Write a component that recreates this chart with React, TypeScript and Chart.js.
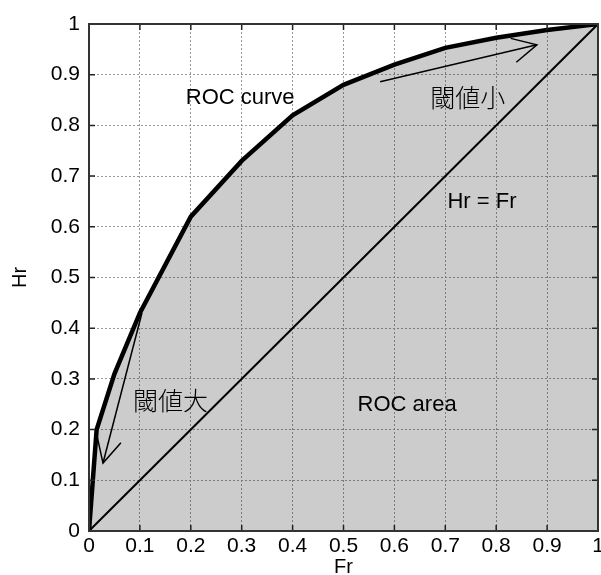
import React, { useEffect, useRef } from "react";
import { Chart, registerables } from "chart.js";

Chart.register(...registerables);

// ROC curve data (Fr = false alarm rate, Hr = hit rate)
const frValues = [0, 0.015, 0.05, 0.1, 0.2, 0.3, 0.4, 0.5, 0.6, 0.7, 0.8, 0.9, 1];
const hrValues = [0, 0.2, 0.31, 0.43, 0.62, 0.73, 0.82, 0.88, 0.92, 0.953, 0.973, 0.988, 1];

// Diagonal Hr = Fr
const diagFr = [0, 1];
const diagHr = [0, 1];

// Axis ticks
const tickValues = [0, 0.1, 0.2, 0.3, 0.4, 0.5, 0.6, 0.7, 0.8, 0.9, 1];
const tickLabels = ["0", "0.1", "0.2", "0.3", "0.4", "0.5", "0.6", "0.7", "0.8", "0.9", "1"];

// Annotation texts
const noteTexts = ["ROC curve", "閾値小", "Hr = Fr", "ROC area", "閾値大"];
const noteFr = [0.297, 0.744, 0.772, 0.625, 0.16];
const noteHr = [0.854, 0.856, 0.649, 0.249, 0.258];
const noteCjk = [false, true, false, false, true];

// Arrows (from -> to, in data coordinates)
const arrowFrom = [
  [0.104, 0.43],
  [0.572, 0.886],
];
const arrowTo = [
  [0.0275, 0.134],
  [0.88, 0.959],
];

const overlayPlugin = {
  id: "overlay",
  afterDatasetsDraw(chart: any) {
    const { ctx, chartArea, scales } = chart;
    const xs = scales.x;
    const ys = scales.y;
    ctx.save();

    // arrows
    ctx.strokeStyle = "#000";
    ctx.lineWidth = 1.5;
    for (let i = 0; i < arrowFrom.length; i++) {
      const x1 = xs.getPixelForValue(arrowFrom[i][0]);
      const y1 = ys.getPixelForValue(arrowFrom[i][1]);
      const x2 = xs.getPixelForValue(arrowTo[i][0]);
      const y2 = ys.getPixelForValue(arrowTo[i][1]);
      ctx.beginPath();
      ctx.moveTo(x1, y1);
      ctx.lineTo(x2, y2);
      ctx.stroke();
      const ang = Math.atan2(y1 - y2, x1 - x2);
      const hl = 27;
      const ha = (27 * Math.PI) / 180;
      ctx.beginPath();
      ctx.moveTo(x2 + hl * Math.cos(ang + ha), y2 + hl * Math.sin(ang + ha));
      ctx.lineTo(x2, y2);
      ctx.lineTo(x2 + hl * Math.cos(ang - ha), y2 + hl * Math.sin(ang - ha));
      ctx.stroke();
    }

    // texts
    ctx.fillStyle = "#000";
    ctx.textAlign = "center";
    ctx.textBaseline = "middle";
    for (let i = 0; i < noteTexts.length; i++) {
      ctx.font = noteCjk[i]
        ? "300 25px 'Noto Sans CJK JP'"
        : "22px 'Liberation Sans'";
      ctx.fillText(
        noteTexts[i],
        xs.getPixelForValue(noteFr[i]),
        ys.getPixelForValue(noteHr[i])
      );
    }

    // inward tick marks on all four sides
    ctx.strokeStyle = "#222";
    ctx.lineWidth = 1.5;
    const tl = 6;
    for (const v of tickValues) {
      const px = xs.getPixelForValue(v);
      const py = ys.getPixelForValue(v);
      ctx.beginPath();
      ctx.moveTo(px, chartArea.bottom);
      ctx.lineTo(px, chartArea.bottom - tl);
      ctx.moveTo(px, chartArea.top);
      ctx.lineTo(px, chartArea.top + tl);
      ctx.moveTo(chartArea.left, py);
      ctx.lineTo(chartArea.left + tl, py);
      ctx.moveTo(chartArea.right, py);
      ctx.lineTo(chartArea.right - tl, py);
      ctx.stroke();
    }

    // frame
    ctx.strokeStyle = "#333";
    ctx.lineWidth = 2;
    ctx.strokeRect(
      chartArea.left,
      chartArea.top,
      chartArea.right - chartArea.left,
      chartArea.bottom - chartArea.top
    );
    ctx.restore();
  },
};

const fmtTick = (v: any) => {
  const i = tickValues.findIndex((t) => Math.abs(t - Number(v)) < 1e-9);
  return i >= 0 ? tickLabels[i] : "";
};

export default function App() {
  const ref = useRef<HTMLCanvasElement | null>(null);

  useEffect(() => {
    document.body.style.margin = "0";
    if (!ref.current) return;
    Chart.defaults.font.family = "'Liberation Sans', Arial, sans-serif";
    Chart.defaults.color = "#000";

    const chart = new Chart(ref.current, {
      type: "scatter",
      data: {
        datasets: [
          {
            label: "ROC curve",
            data: frValues.map((x, i) => ({ x, y: hrValues[i] })),
            showLine: true,
            borderColor: "#000",
            borderWidth: 4.5,
            backgroundColor: "rgba(0,0,0,0.2)",
            fill: "origin",
            pointRadius: 0,
            tension: 0,
            order: 1,
          },
          {
            label: "Hr = Fr",
            data: diagFr.map((x, i) => ({ x, y: diagHr[i] })),
            showLine: true,
            borderColor: "#000",
            borderWidth: 2,
            fill: false,
            pointRadius: 0,
            order: 0,
          },
        ],
      },
      options: {
        responsive: false,
        animation: false,
        layout: { padding: { top: 24, right: 3, left: 0, bottom: 0 } },
        plugins: {
          legend: { display: false },
          tooltip: { enabled: false },
        },
        scales: {
          x: {
            type: "linear",
            min: 0,
            max: 1,
            afterBuildTicks: (s: any) => {
              s.ticks = tickValues.map((v) => ({ value: v }));
            },
            ticks: {
              autoSkip: false,
              maxRotation: 0,
              padding: 3,
              font: { size: 21 },
              color: "#000",
              callback: fmtTick,
            },
            grid: {
              color: "#999",
              lineWidth: 1,
              drawTicks: false,
            },
            border: { display: false, dash: [2, 2] },
            title: {
              display: true,
              text: "Fr",
              font: { size: 20, lineHeight: 0.8 },
              padding: 0,
              color: "#000",
            },
            afterFit: (s: any) => {
              s.height = 44;
              s.paddingLeft = 0;
              s.paddingRight = 0;
            },
          },
          y: {
            type: "linear",
            min: 0,
            max: 1,
            afterBuildTicks: (s: any) => {
              s.ticks = tickValues.map((v) => ({ value: v }));
            },
            ticks: {
              autoSkip: false,
              padding: 9,
              font: { size: 21 },
              color: "#000",
              callback: fmtTick,
            },
            grid: {
              color: "#999",
              lineWidth: 1,
              drawTicks: false,
            },
            border: { display: false, dash: [2, 2] },
            title: {
              display: true,
              text: "Hr",
              font: { size: 20 },
              padding: { top: 8, bottom: 0 },
              color: "#000",
            },
            afterFit: (s: any) => {
              s.width = 89;
              s.paddingTop = 0;
              s.paddingBottom = 0;
            },
          },
        },
      },
      plugins: [overlayPlugin],
    } as any);

    return () => chart.destroy();
  }, []);

  return (
    <div style={{ width: 601, height: 575 }}>
      <canvas ref={ref} width={601} height={575} />
    </div>
  );
}
